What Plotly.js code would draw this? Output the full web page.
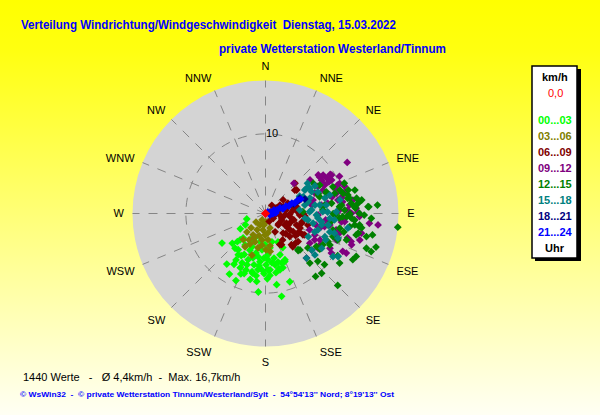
<!DOCTYPE html>
<html><head><meta charset="utf-8">
<script src="https://cdn.plot.ly/plotly-3.0.1.min.js"></script>
<style>
html,body{margin:0;padding:0;}
body{width:600px;height:415px;background:linear-gradient(to bottom,#ffff00 0%,#ffff10 12%,#fffff4 100%);}
#chart{width:600px;height:415px;}
</style></head>
<body><div id="chart"></div>
<script>
// Wind direction (degrees, compass) and wind speed (km/h), grouped by time of day
const calmDir = [0];
const calmSpd = [0];

const dir0003 = [253.7,238.7,240.7,235.8,228.1,221.2,217.4,211.8,210.8,202.2,203.8,192.4,187.4,185.2,178.4,171.1,169,160.4,166.3,162,177.2,155.6,157.2,
  223.9,213,210.3,203.2,190.9,180.9,172.6,217,207.4,203,193.5,185.5,176.6,169.2,212.4,205.4,200.6,192.6,186.5,179.4,172.5,165.5,162.2,199,193,187.6,181.4,175.4,170,202,189.8,205,182,160.7,
  225,222.6,156.3,153.1,167.2,210,199.8,195.7,187.1,183.5,177,169.5,165.6,175.9,188.6,193.1,199.6,213.5,158.1];
const spd0003 = [2.45,3.7,2.9,6.6,5.6,5.8,8.0,7.5,8.85,8.2,9.2,7.65,8.6,9.9,8.2,9.05,10.6,9.1,7.1,6.55,7.1,4.1,6.3,
  4.6,4.7,3.8,3.3,3.6,3.9,4.35,5.7,5.8,5.0,5.1,4.6,5.2,5.7,6.9,6.85,6.2,6.6,6.1,6.45,6.25,6.3,7.15,7.5,7.5,7.1,7.55,7.1,7.55,4.5,5.5,7.5,5.6,5.5,
  5.0,4.15,3.9,4.8,3.65,6.1,6.85,5.8,6.6,7.1,5.8,6.55,7.3,7.8,7.9,8.5,8.0,6.2,6.5];

const dir0306 = [208,205.6,187,207.3,188.6,210.2,196,181.3,211.9,200.2,187.5,174.6,211.5,192.3,179.2,172.1,225,225,228,198,173,
  177,205.1,206.9,186.3,172.7,220.3,162.8];
const spd0306 = [0.9,1.6,1.45,2.3,2.1,3.1,2.9,2.7,3.9,3.8,3.35,3.3,4.9,4.4,4.55,4.1,3.3,2.55,1.6,5.5,4.8,
  1.06,3.4,4.3,4.0,2.45,4.3,1.9];

const dir0609 = [71.6,106.4,83,105.3,80.3,91.2,102.8,87.4,103.1,120.5,127.9,124,126.4,112.8,59.6,65,51.5,72,68.6,140.6,133.4,155.3,155.1,152.4,147,135,134.3,117.1,118.5,62.4,52.4,37.4,93.6,105.1,44.3,53,119.6,
  69.1,69.6,77.7,82.8,95.9,94.4,97.4,92.5,89.7,111.9,114.8,107.4,110.2,105.2,123,123.2,121.1,138,118.6,140.3,152.8,130.7,72.6,121.6,131.9];
const spd0609 = [0.6,1.1,1.6,2.1,2.6,3.06,3.65,4.07,4.7,2.8,2.1,3.7,4.7,4.7,2.1,3.1,4.7,3.45,4.6,5.4,4.2,4.3,1.1,2.6,3.95,3.6,5.3,3.2,4.8,1.5,2.8,1.3,4.95,5.5,5.3,4.9,5.4,
  2.4,3.05,4.0,3.5,1.8,2.45,3.1,4.3,4.7,2.2,2.9,3.4,4.15,4.7,3.4,4.15,4.8,3.3,5.6,5.1,4.4,5.4,1.5,1.15,2.15];

const dir0912 = [58,56.3,56,58.8,63.2,63.5,67.9,43.3,62.5,67.9,74,74.2,79.5,81.4,81.3,86.7,91.9,95.8,95.4,89.9,87.3,81.4,74.2,95.9,103,103.2,110.3,110.4,104.9,
  113.5,120,121,116.1,108.1,101.6,116.1,137.4,123.4,118.2,64.4,69.9,67.5,74.9,80.5,87.6,91.2,91.6,94.2,100.1,53,63.3,
  59.3,60,68.5,76.1,77.8,84.3,89.1,96.3,96.1,102.8,106.7,106.5,105.7,110,123.8,128.3,118.4,115.9,53.9,59.8,62.4,102.5,70.9,79.6];
const spd0912 = [12.1,8.7,8.2,9.5,9.3,8.9,10.05,5.2,7.4,7.8,8.4,9.25,9.25,9.8,11.1,11.4,11.8,14.2,13.1,10.8,9.3,7.1,6.2,10,9.1,7.2,5.9,9.5,9.6,
  6.75,7.9,9.65,10.8,11.3,12.3,11.3,7.6,7.9,7.0,8.25,9.25,6.7,10.3,7.9,10.3,8.7,6.6,11.2,8.2,7.0,10.4,
  8.2,8.9,9.7,8.6,9.8,10.6,11.6,9.6,7.6,6.5,9.3,10.75,12.3,11.5,6.7,7.4,9.2,7.6,8.2,9.6,8.15,7.6,10.5,5.9];

const dir1215 = [95.9,85.7,86.3,92.6,101.3,102.9,98,83.7,83.3,90,74.2,75.4,71.7,68.4,69,57.7,84.8,92.3,98.9,103.3,103.7,87.3,
  109,109.8,106.9,115.3,117.9,123.8,130.9,132.4,136.8,141.5,134.9,138.6,123.3,120.3,80.5,136.6,138.2,
  75.3,82,79.6,87.5,90.9,97.3,93.5,81.9,110.1,116,129.1,
  122.9,118.6,138,72.9,70.4,81.2,73.8,97.1,114.2,103.3,93,98.5,86.5,77.4,83.7,90.4,69,72.5,
  62.4,70.7,90.2,92.4,90.1,94.2,96.9,102,101.2,108.1,108.9,100.4,86.2,79.6,84.8,86.5,85.7];
const spd1215 = [16.7,14.1,13.0,13.3,13.7,13.0,11.9,11.7,10.85,11.8,10.8,10.05,8.05,9.1,7.1,7.1,9.35,10.2,10.7,11.7,8.7,4.7,
  13.4,14.1,14.5,12.6,12.4,11.2,9.8,8.9,10.3,10.1,12.8,6.2,8.15,10.5,11.6,6.3,8.35,
  11.6,12.2,10.7,9.95,12.4,11.3,9.3,7.5,9.65,9.0,6.85,
  7.6,8.2,6.1,7.1,8.1,8.4,9.05,8.3,8.6,10.1,10.8,12.2,11.3,10.6,9.6,8.8,10.6,9.8,
  7.7,7.0,8.5,9.7,10.6,11.2,11.9,11.9,9.5,10.7,8.95,8.0,12.9,10.5,9.35,7.2,11.2];

const dir1518 = [63.1,59.2,60.2,60.9,67.7,70.8,77.9,84.2,85.7,81.1,75.4,74,88.6,94.9,98.7,101.5,95.3,106,108.7,110.5,79.7,54.3,137.4,128.3,120.7,122.5,121.8,113.7,100,
  58.5,64.7,66,74.6,80.3,87.7,91.7,88.2,96.9,101.6,98.3,107.4,100.4,94.3,105.9,111.3,82.1,88.6,130,118.5];
const spd1518 = [4.8,5.75,6.4,7.1,7.1,5.9,5.05,4.3,5.8,6.9,7.7,8.4,7.8,6.6,5.4,7.2,8.7,8.4,9.6,6.6,9.5,6.5,7.6,7.4,10.6,10.05,8.3,8.25,10.5,
  6.0,6.4,5.2,5.55,6.3,5.55,6.4,7.2,5.0,6.1,7.1,6.9,8.0,8.1,9.0,8.0,7.7,8.9,8.1,6.1];

const dir1821 = [71.6,70.9,70,65.8,69.8,76.6,71.6];
const spd1821 = [2.2,3.24,4.2,4.7,5.26,1.35,3.75];

const dir2124 = [59,74.7,67.6,73,69.2,75.6,69.9,72.3,68.4,70.4,67.4,67.8,108,93,87];
const spd2124 = [0.36,0.7,1.15,1.5,1.94,2.26,2.73,3.08,3.56,3.9,4.4,4.8,0.6,0.94,1.3];

const compassLabels = ['N','NNE','NE','ENE','E','ESE','SE','SSE','S','SSW','SW','WSW','W','WNW','NW','NNW'];
const compassAngles = [0,22.5,45,67.5,90,112.5,135,157.5,180,202.5,225,247.5,270,292.5,315,337.5];
const legendLabels = ['00...03','03...06','06...09','09...12','12...15','15...18','18...21','21...24'];
const groupColors = ['#00ff00','#808000','#800000','#800080','#008000','#008080','#000080','#0000ff'];

const groups = [
  [dir0003,spd0003],[dir0306,spd0306],[dir0609,spd0609],[dir0912,spd0912],
  [dir1215,spd1215],[dir1518,spd1518],[dir1821,spd1821],[dir2124,spd2124]
];

const traces = groups.map((g,i)=>({
  type:'scatterpolar', mode:'markers', theta:g[0], r:g[1],
  marker:{symbol:'diamond', size:6, color:groupColors[i], line:{width:0}},
  hoverinfo:'skip', showlegend:false
}));
traces.push({type:'scatterpolar', mode:'markers', theta:calmDir, r:calmSpd,
  marker:{symbol:'diamond', size:7, color:'#ff0000', line:{width:0}}, showlegend:false, hoverinfo:'skip'});

const W=600,H=415;
const px=x=>x/W, py=y=>1-y/H;
const ann=[];
function txt(t,x,y,opt){ ann.push(Object.assign({text:t,x:px(x),y:py(y),xref:'paper',yref:'paper',showarrow:false,xanchor:'left',yanchor:'middle'},opt)); }

txt('<b>Verteilung Windrichtung/Windgeschwindigkeit  Dienstag, 15.03.2022</b>',19,25,{font:{family:'Liberation Sans, Arial',size:13,color:'#0000ff'}});
txt('<b>private Wetterstation Westerland/Tinnum</b>',217,49,{font:{family:'Liberation Sans, Arial',size:13,color:'#0000ff'}});
txt('1440 Werte   -   Ø 4,4km/h  -  Max. 16,7km/h',21,377,{font:{family:'Liberation Sans, Arial',size:11,color:'#000000'}});
txt('<b>© WsWin32  -  © private Wetterstation Tinnum/Westerland/Sylt  -  54°54\'13\'\' Nord; 8°19\'13\'\' Ost</b>',18,394,{font:{family:'Liberation Sans, Arial',size:8,color:'#0000ff'}});

// legend box texts
txt('<b>km/h</b>',555,77,{xanchor:'center',font:{family:'Liberation Sans, Arial',size:11,color:'#000'}});
txt('0,0',555,93,{xanchor:'center',font:{family:'Liberation Sans, Arial',size:11,color:'#ff0000'}});
const legY=[120,136,152,168,184,200,216,232];
legendLabels.forEach((l,i)=>txt('<b>'+l+'</b>',555,legY[i],{xanchor:'center',font:{family:'Liberation Sans, Arial',size:11,color:groupColors[i]}}));
txt('<b>Uhr</b>',555,248,{xanchor:'center',font:{family:'Liberation Sans, Arial',size:11,color:'#000'}});

const shapes=[
  {type:'rect',xref:'paper',yref:'paper',x0:px(535),x1:px(581),y0:py(69),y1:py(261),fillcolor:'#000',line:{width:0}},
  {type:'rect',xref:'paper',yref:'paper',x0:px(532),x1:px(577),y0:py(66),y1:py(258),fillcolor:'#fff',line:{color:'#000',width:1.5}}
];

const layout={
  width:W,height:H,margin:{l:0,r:0,t:0,b:0},
  paper_bgcolor:'rgba(0,0,0,0)',plot_bgcolor:'rgba(0,0,0,0)',
  showlegend:false,
  font:{family:'Liberation Sans, Arial',size:11,color:'#000'},
  polar:{
    domain:{x:[132.5/W,398.5/W],y:[1-346.5/H,1-80.5/H]},
    bgcolor:'#d4d4d4',
    angularaxis:{rotation:90,direction:'clockwise',thetaunit:'degrees',tickmode:'array',
      tickvals:compassAngles,ticktext:compassLabels,showline:false,ticks:'outside',ticklen:6,tickcolor:'rgba(0,0,0,0)',
      gridcolor:'#858585',griddash:'dash',gridwidth:1,tickfont:{size:11,color:'#000'}},
    radialaxis:{range:[0,16.7],tickmode:'array',tickvals:[10],ticktext:['10'],angle:90,tickangle:90,
      showline:false,ticks:'',gridcolor:'#858585',griddash:'dash',gridwidth:1,tickfont:{size:11,color:'#000'}}
  },
  annotations:ann,shapes:shapes
};
Plotly.newPlot('chart',traces,layout,{staticPlot:true,displayModeBar:false}).then(()=>{
  // condense the title/footer texts to the width used in the original picture, keeping the left edge
  const widths={'Verteilung':375,'private Wetter':227,'© WsWin32':374};
  document.querySelectorAll('.annotation-text').forEach(t=>{
    const s=t.textContent;
    for(const k in widths){
      if(s.startsWith(k)){
        const left0=t.getBBox().x;
        t.setAttribute('textLength',widths[k]);
        t.setAttribute('lengthAdjust','spacingAndGlyphs');
        const left1=t.getBBox().x;
        const old=t.getAttribute('transform')||'';
        t.setAttribute('transform',old+' translate('+(left0-left1)+',0)');
      }
    }
  });
});
</script></body></html>
